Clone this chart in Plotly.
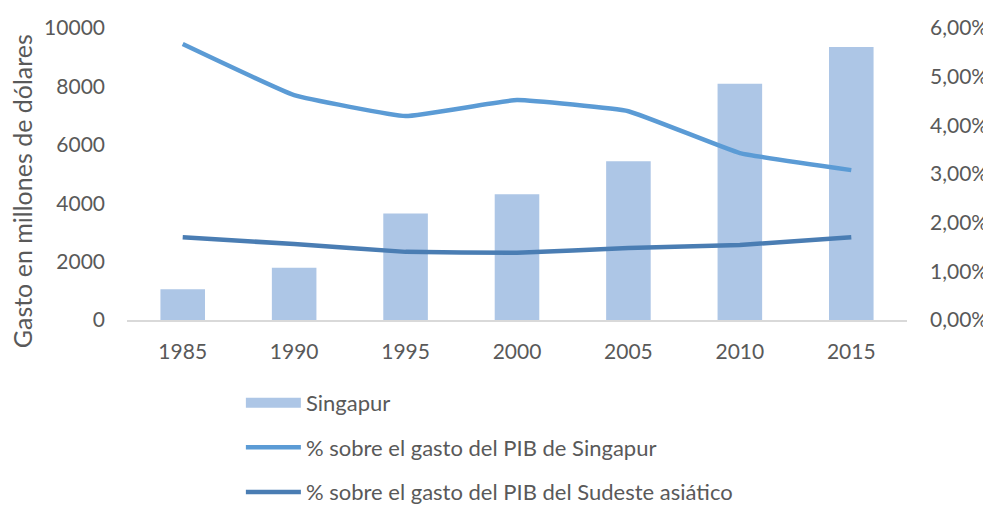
import plotly.graph_objects as go

years = ["1985", "1990", "1995", "2000", "2005", "2010", "2015"]
gasto_singapur = [1050, 1790, 3650, 4310, 5440, 8090, 9350]
pct_pib_singapur = [0.0567, 0.0462, 0.0419, 0.0452, 0.0429, 0.0343, 0.0308]
pct_pib_sudeste = [0.0170, 0.0156, 0.0140, 0.0138, 0.0148, 0.0154, 0.0170]

FONT = "Lato"
GREY = "#595959"
BAR_COLOR = "#adc6e6"

fig = go.Figure()

fig.add_trace(
    go.Bar(
        x=years,
        y=gasto_singapur,
        name="Singapur",
        marker=dict(color=BAR_COLOR, line=dict(width=0)),
        showlegend=False,
    )
)
# legend entry drawn as a wide block, like the spreadsheet legend
fig.add_trace(
    go.Scatter(
        x=[None],
        y=[None],
        name="Singapur",
        mode="lines",
        line=dict(color=BAR_COLOR, width=15),
        legendgroup="a",
    )
)
fig.add_trace(
    go.Scatter(
        x=years,
        y=pct_pib_singapur,
        name="% sobre el gasto del PIB de Singapur",
        mode="lines",
        line=dict(color="#5b9bd5", width=4.5, shape="spline", smoothing=0.3),
        yaxis="y2",
        legendgroup="b",
    )
)
fig.add_trace(
    go.Scatter(
        x=years,
        y=pct_pib_sudeste,
        name="% sobre el gasto del PIB del Sudeste asiático",
        mode="lines",
        line=dict(color="#4a7db3", width=4.5, shape="spline", smoothing=0.3),
        yaxis="y2",
        legendgroup="c",
    )
)

# the page body adds an 8px margin, so the figure is a bit smaller than the window
fig.update_layout(
    width=983,
    height=497,
    margin=dict(l=119, r=84, t=20, b=185, autoexpand=False),
    paper_bgcolor="white",
    plot_bgcolor="white",
    font=dict(family=FONT, size=21, color=GREY),
    separators=",.",
    bargap=0.6,
    showlegend=True,
    legend=dict(
        orientation="v",
        x=0.146,
        xanchor="left",
        y=-0.212,
        yanchor="top",
        itemwidth=55,
        tracegroupgap=13,
        font=dict(family=FONT, size=22, color=GREY),
    ),
    xaxis=dict(
        type="category",
        showgrid=False,
        showline=True,
        linecolor="#d9d9d9",
        linewidth=1.5,
        ticks="",
        ticklabelstandoff=12,
    ),
    yaxis=dict(
        range=[0, 10000],
        dtick=2000,
        tickformat="d",
        showgrid=False,
        zeroline=False,
        ticks="",
        ticklabelstandoff=21,
    ),
    yaxis2=dict(
        range=[0, 0.06],
        dtick=0.01,
        tickformat=".2%",
        overlaying="y",
        side="right",
        showgrid=False,
        zeroline=False,
        ticks="",
        ticklabelstandoff=22,
    ),
    annotations=[
        dict(
            text="Gasto en millones de dólares",
            textangle=-90,
            xref="paper",
            yref="paper",
            x=-0.135,
            y=0.44,
            xanchor="center",
            yanchor="middle",
            showarrow=False,
            font=dict(family=FONT, size=25, color=GREY),
        )
    ],
)

fig.write_html("out.html")
